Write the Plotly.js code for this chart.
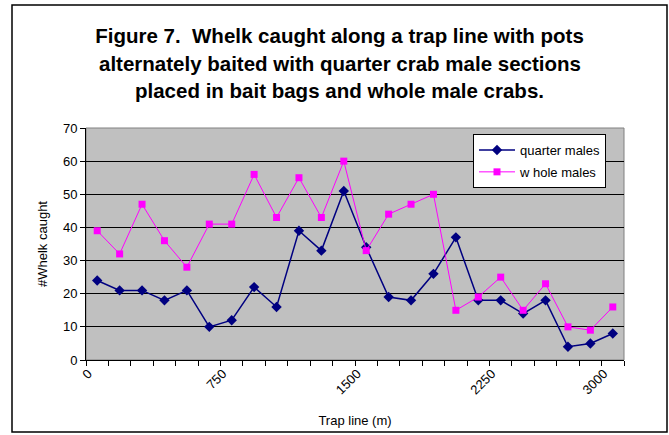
<!DOCTYPE html>
<html>
<head>
<meta charset="utf-8">
<script src="https://cdn.plot.ly/plotly-3.0.1.min.js"></script>
<style>html,body{margin:0;padding:0;background:#fff;}#chart{width:669px;height:435px;}</style>
</head>
<body>
<div id="chart"></div>
<script>
// Trap index along the line (categories)
var traps = ["1","2","3","4","5","6","7","8","9","10","11","12","13","14","15","16","17","18","19","20","21","22","23","24"];
// Tick labels shown under the category axis (metres)
var xTickLabels = ["0","","","","","","750","","","","","","1500","","","","","","2250","","","","","3000"];
// Whelk caught per pot
var quarterMales = [24,21,21,18,21,10,12,22,16,39,33,51,34,19,18,26,37,18,18,14,18,4,5,8];
var wholeMales   = [39,32,47,36,28,41,41,56,43,55,43,60,33,44,47,50,15,19,25,15,23,10,9,16];
var seriesNames = ["quarter males", "w hole males"];
var titleLines = ["Figure 7.&nbsp; Whelk caught along a trap line with pots",
                  "alternately baited with quarter crab male sections",
                  "placed in bait bags and whole male crabs."];

var FONT = "Liberation Sans, Arial, sans-serif";
var TSIZE = 20.5;

var traces = [
  {
    type: "scatter", mode: "lines+markers", name: seriesNames[0],
    x: traps, y: quarterMales, legendgroup: "a",
    line: {color: "#000080", width: 1.5},
    marker: {symbol: "diamond", size: 8, color: "#000080"}
  },
  {
    type: "scatter", mode: "lines+markers", name: seriesNames[1],
    x: traps, y: wholeMales, legendgroup: "b",
    line: {color: "#FF00FF", width: 1},
    marker: {symbol: "square", size: 7, color: "#FF00FF"}
  }
];

var layout = {
  width: 669, height: 435,
  margin: {l: 86, r: 45, t: 128, b: 75, pad: 0},
  paper_bgcolor: "#FFFFFF",
  plot_bgcolor: "#C0C0C0",
  font: {family: FONT, size: 13, color: "#000000"},
  showlegend: true,
  title: {
    text: titleLines[0],
    font: {family: FONT, size: TSIZE, color: "#000000", weight: "bold"},
    xref: "container", x: 0.5075, xanchor: "center",
    yref: "container", y: 1 - 36/435, yanchor: "middle"
  },
  annotations: [
    {text: titleLines[1], xref: "paper", yref: "paper", x: 0.4712, y: (360-63.5)/232,
     xanchor: "center", yanchor: "middle", showarrow: false,
     font: {family: FONT, size: TSIZE, color: "#000000", weight: "bold"}},
    {text: titleLines[2], xref: "paper", yref: "paper", x: 0.4712, y: (360-91)/232,
     xanchor: "center", yanchor: "middle", showarrow: false,
     font: {family: FONT, size: TSIZE, color: "#000000", weight: "bold"}}
  ],
  xaxis: {
    type: "category",
    tickmode: "array", tickvals: traps, ticktext: xTickLabels,
    tickson: "boundaries", ticks: "outside", ticklen: 5, tickcolor: "#000000", tickwidth: 1,
    tickangle: -45, tickfont: {family: FONT, size: 13, color: "#000000"},
    ticklabelshift: -9,
    showgrid: false, zeroline: false,
    showline: true, linecolor: "#000000", linewidth: 1,
    range: [-0.5, 23.5], fixedrange: true,
    title: {text: "Trap line (m)", font: {family: FONT, size: 13, color: "#000000"}, standoff: 19}
  },
  yaxis: {
    range: [0, 70], dtick: 10, tick0: 0,
    ticks: "outside", ticklen: 5, tickcolor: "#000000", tickwidth: 1,
    tickfont: {family: FONT, size: 13, color: "#000000"},
    showgrid: true, gridcolor: "#000000", gridwidth: 1,
    zeroline: false, showline: true, linecolor: "#000000", linewidth: 1,
    title: {text: "#Whelk caught", font: {family: FONT, size: 13, color: "#000000"}, standoff: 12}
  },
  legend: {
    x: (473 - 86)/538, y: (360 - 134)/232, xanchor: "left", yanchor: "top",
    bgcolor: "#FFFFFF", bordercolor: "#000000", borderwidth: 1,
    font: {family: FONT, size: 13, color: "#000000"},
    traceorder: "grouped", tracegroupgap: 2, itemwidth: 36
  },
  shapes: [
    {type: "rect", xref: "paper", yref: "paper", x0: 0, x1: 1, y0: 0, y1: 1,
     line: {color: "#808080", width: 1}, layer: "below"},
    {type: "rect", xref: "paper", yref: "paper",
     x0: (12 - 86)/538, x1: (667 - 86)/538, y0: (360 - 432)/232, y1: (360 - 5)/232,
     line: {color: "#000000", width: 1.5}, layer: "below"}
  ]
};

Plotly.newPlot("chart", traces, layout, {staticPlot: true, displayModeBar: false});
</script>
</body>
</html>
